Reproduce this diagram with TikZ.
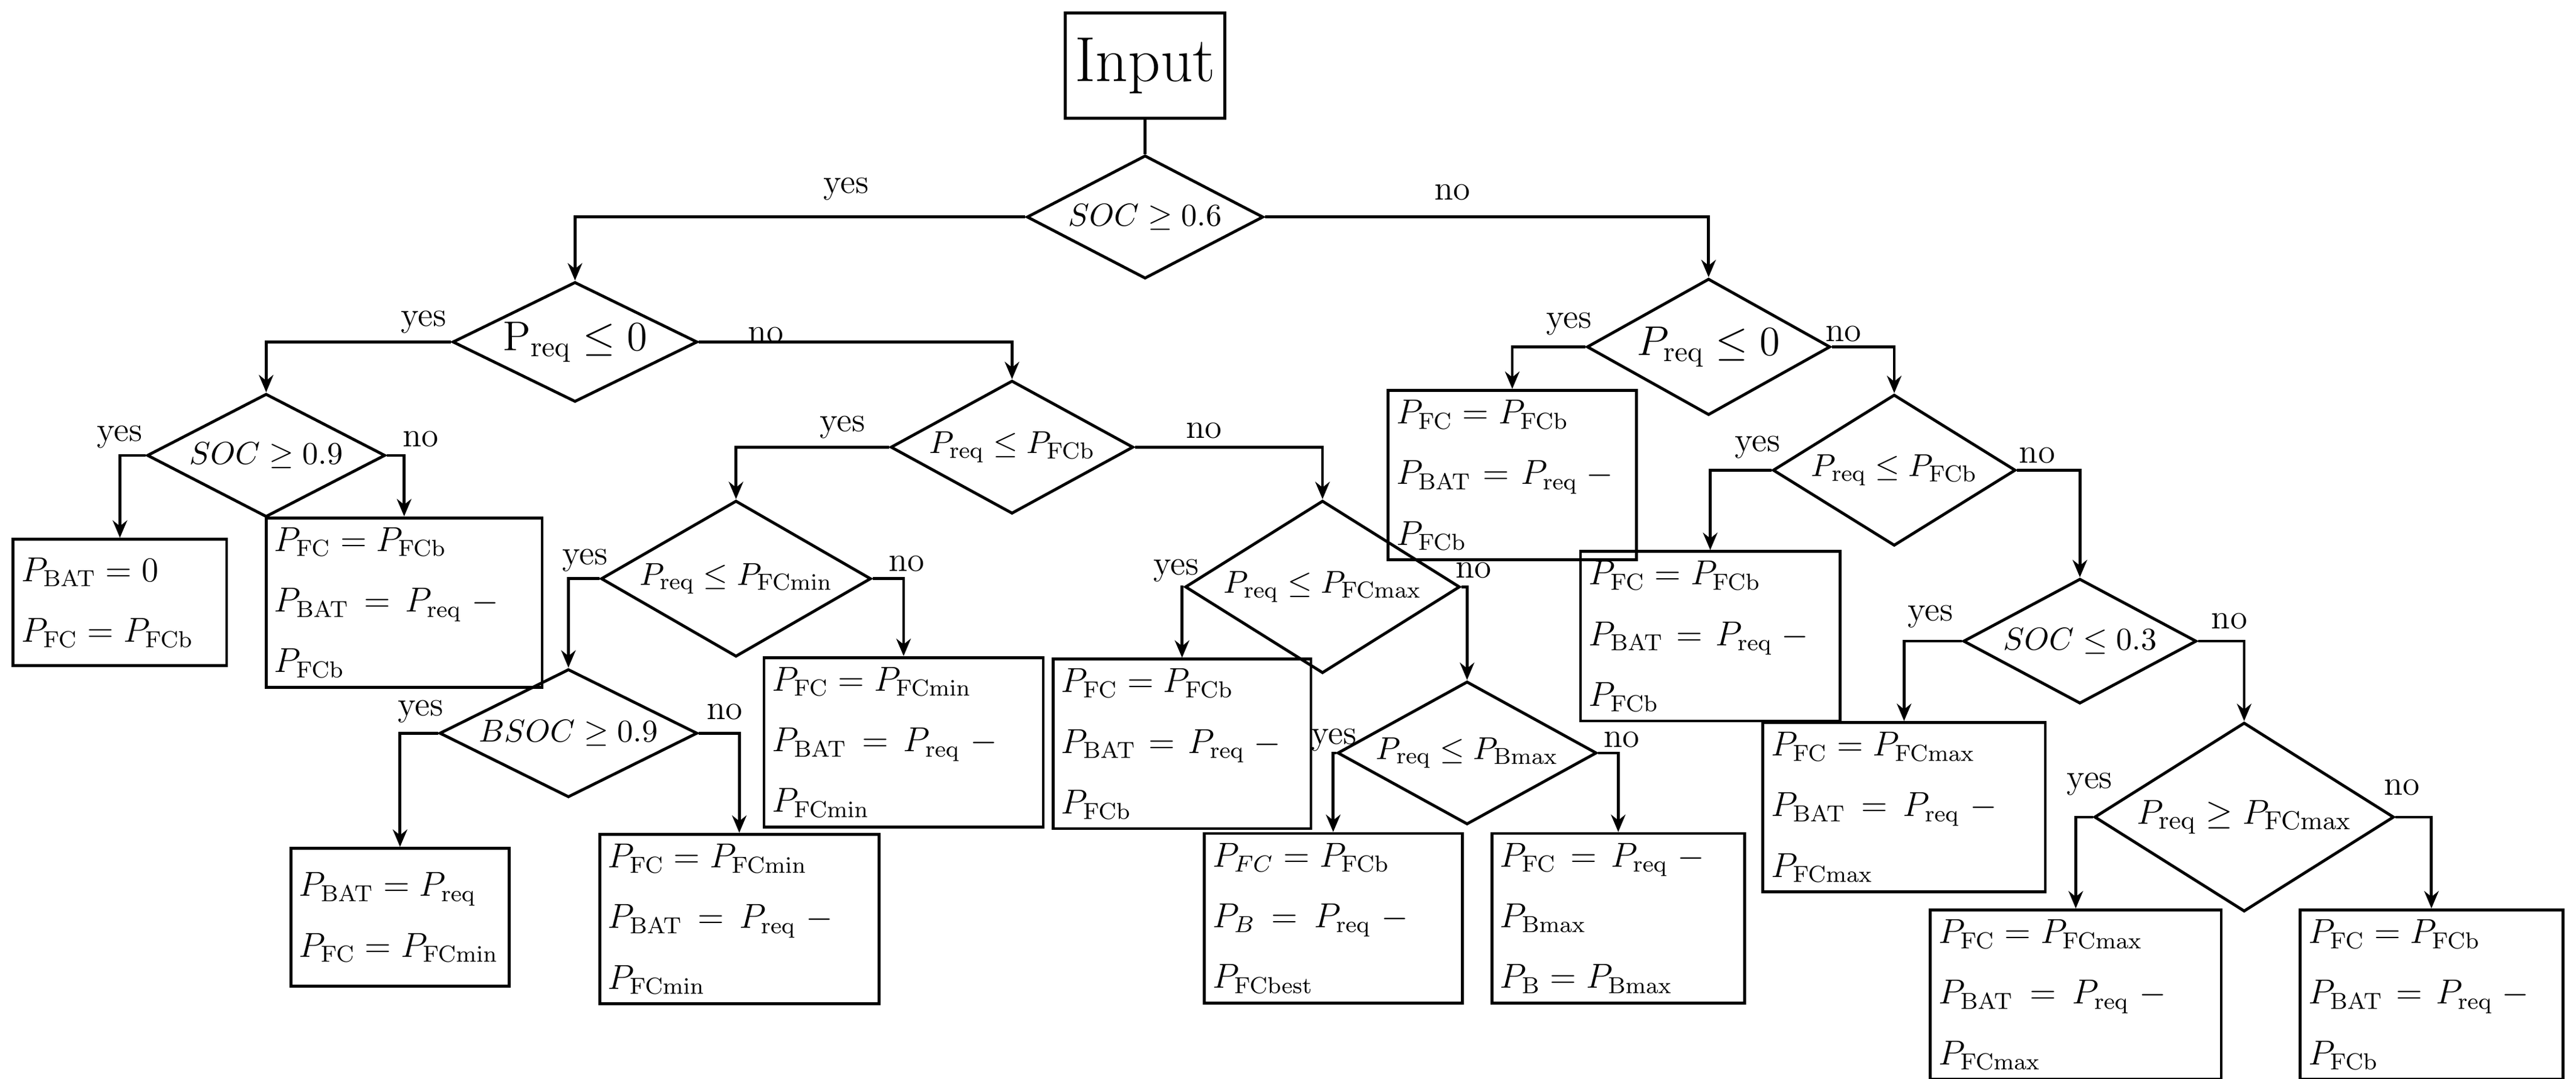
\documentclass[tikz,border=0pt]{standalone}
\usetikzlibrary{shapes.geometric,arrows.meta}
\begin{document}
\begin{tikzpicture}[x=0.02cm,y=-0.02cm,
 dia/.style={diamond,draw,line width=1pt,inner sep=0pt,aspect=2.5,font=\fontsize{11}{13}\selectfont},
 bx/.style={draw,line width=1pt,inner xsep=0.1cm,align=left,font=\fontsize{11.5}{21}\selectfont},
 arr/.style={line width=1pt,-{Stealth[length=6pt,width=5pt]}},
 lb/.style={font=\fontsize{12}{14}\selectfont}]
\useasboundingbox (0,0) rectangle (1568,656);
\node[draw,line width=1pt,minimum width=1.94cm,minimum height=1.28cm,font=\fontsize{22}{24}\selectfont] (in) at (697,40) {Input};
\node[dia,minimum width=2.88cm,minimum height=1.5cm] (d1) at (697,132) {$SOC\geq 0.6$};
\node[dia,minimum width=2.8cm,minimum height=1.46cm,font=\fontsize{14}{16}\selectfont] (d2) at (350,208) {$\mathrm{P}_{\mathrm{req}}\leq 0$};
\node[dia,minimum width=2.56cm,minimum height=1.66cm,font=\fontsize{14}{16}\selectfont] (d3) at (1040,211) {$P_{\mathrm{req}}\leq 0$};
\node[dia,minimum width=2.9cm,minimum height=1.5cm] (d4) at (162,277) {$SOC\geq 0.9$};
\node[dia,minimum width=2.56cm,minimum height=1.62cm] (d5) at (616,272) {$P_{\mathrm{req}}\leq P_{\mathrm{FCb}}$};
\node[dia,minimum width=3.0cm,minimum height=1.9cm] (d6) at (448,352) {$P_{\mathrm{req}}\leq P_{\mathrm{FCmin}}$};
\node[dia,minimum width=3.08cm,minimum height=2.1cm] (d7) at (805,357) {$P_{\mathrm{req}}\leq P_{\mathrm{FCmax}}$};
\node[dia,minimum width=3.14cm,minimum height=1.56cm] (d8) at (346,446) {$BSOC\geq 0.9$};
\node[dia,minimum width=3.0cm,minimum height=1.74cm] (d9) at (893,458) {$P_{\mathrm{req}}\leq P_{\mathrm{Bmax}}$};
\node[dia,minimum width=2.54cm,minimum height=1.84cm] (d10) at (1153,286) {$P_{\mathrm{req}}\leq P_{\mathrm{FCb}}$};
\node[dia,minimum width=2.84cm,minimum height=1.52cm] (d11) at (1266,390) {$SOC\leq 0.3$};
\node[dia,minimum width=3.46cm,minimum height=2.3cm,font=\fontsize{13}{15}\selectfont] (d12) at (1366,497) {$P_{\mathrm{req}}\geq P_{\mathrm{FCmax}}$};
\node[bx,minimum width=2.6cm,minimum height=1.54cm,text width=2.4cm] (b1) at (73,366.5) {$P_{\mathrm{BAT}}=0$\\$P_{\mathrm{FC}}=P_{\mathrm{FCb}}$};
\node[bx,minimum width=3.36cm,minimum height=1.54cm,text width=3.16cm] (b2) at (246,366.5) {$P_{\mathrm{FC}}=P_{\mathrm{FCb}}$\\$P_{\mathrm{BAT}}=P_{\mathrm{req}}-P_{\mathrm{FCb}}$};
\node[bx,minimum width=3.4cm,minimum height=1.66cm,text width=3.2cm] (b3) at (550,451.5) {$P_{\mathrm{FC}}=P_{\mathrm{FCmin}}$\\$P_{\mathrm{BAT}}=P_{\mathrm{req}}-P_{\mathrm{FCmin}}$};
\node[bx,minimum width=2.66cm,minimum height=1.68cm,text width=2.46cm] (b4) at (243.5,558) {$P_{\mathrm{BAT}}=P_{\mathrm{req}}$\\$P_{\mathrm{FC}}=P_{\mathrm{FCmin}}$};
\node[bx,minimum width=3.4cm,minimum height=1.64cm,text width=3.2cm] (b5) at (450,559) {$P_{\mathrm{FC}}=P_{\mathrm{FCmin}}$\\$P_{\mathrm{BAT}}=P_{\mathrm{req}}-P_{\mathrm{FCmin}}$};
\node[bx,minimum width=3.14cm,minimum height=1.7cm,text width=2.94cm] (b6) at (719.5,452.5) {$P_{\mathrm{FC}}=P_{\mathrm{FCb}}$\\$P_{\mathrm{BAT}}=P_{\mathrm{req}}-P_{\mathrm{FCb}}$};
\node[bx,minimum width=3.14cm,minimum height=1.66cm,text width=2.94cm] (b7) at (811.5,558.5) {$P_{FC}=P_{\mathrm{FCb}}$\\$P_{B}=P_{\mathrm{req}}-P_{\mathrm{FCbest}}$};
\node[bx,minimum width=3.08cm,minimum height=1.66cm,text width=2.88cm] (b8) at (985,558.5) {$P_{\mathrm{FC}}=P_{\mathrm{req}}-P_{\mathrm{Bmax}}$\\$P_{\mathrm{B}}=P_{\mathrm{Bmax}}$};
\node[bx,minimum width=3.02cm,minimum height=1.64cm,text width=2.82cm] (b9) at (920.5,289) {$P_{\mathrm{FC}}=P_{\mathrm{FCb}}$\\$P_{\mathrm{BAT}}=P_{\mathrm{req}}-P_{\mathrm{FCb}}$};
\node[bx,minimum width=3.16cm,minimum height=1.64cm,text width=2.96cm] (b10) at (1041,387) {$P_{\mathrm{FC}}=P_{\mathrm{FCb}}$\\$P_{\mathrm{BAT}}=P_{\mathrm{req}}-P_{\mathrm{FCb}}$};
\node[bx,minimum width=3.44cm,minimum height=1.64cm,text width=3.24cm] (b11) at (1159,491) {$P_{\mathrm{FC}}=P_{\mathrm{FCmax}}$\\$P_{\mathrm{BAT}}=P_{\mathrm{req}}-P_{\mathrm{FCmax}}$};
\node[bx,minimum width=3.54cm,minimum height=1.6cm,text width=3.34cm] (b12) at (1263.5,605) {$P_{\mathrm{FC}}=P_{\mathrm{FCmax}}$\\$P_{\mathrm{BAT}}=P_{\mathrm{req}}-P_{\mathrm{FCmax}}$};
\node[bx,minimum width=3.2cm,minimum height=1.6cm,text width=3.0cm] (b13) at (1480,605) {$P_{\mathrm{FC}}=P_{\mathrm{FCb}}$\\$P_{\mathrm{BAT}}=P_{\mathrm{req}}-P_{\mathrm{FCb}}$};
\draw[line width=1pt] (in) -- (d1);
\draw[arr] (d1.west) -| (d2.north);
\draw[arr] (d1.east) -| (d3.north);
\draw[arr] (d2.west) -| (d4.north);
\draw[arr] (d2.east) -| (d5.north);
\draw[arr] (d4.west) -| (b1.north);
\draw[arr] (d4.east) -| (b2.north);
\draw[arr] (d5.west) -| (d6.north);
\draw[arr] (d5.east) -| (d7.north);
\draw[arr] (d6.west) -| (d8.north);
\draw[arr] (d6.east) -| (b3.north);
\draw[arr] (d8.west) -| (b4.north);
\draw[arr] (d8.east) -| (b5.north);
\draw[arr] (d7.west) -| (b6.north);
\draw[arr] (d7.east) -| (d9.north);
\draw[arr] (d9.west) -| (b7.north);
\draw[arr] (d9.east) -| (b8.north);
\draw[arr] (d3.west) -| (b9.north);
\draw[arr] (d3.east) -| (d10.north);
\draw[arr] (d10.west) -| (b10.north);
\draw[arr] (d10.east) -| (d11.north);
\draw[arr] (d11.west) -| (b11.north);
\draw[arr] (d11.east) -| (d12.north);
\draw[arr] (d12.west) -| (b12.north);
\draw[arr] (d12.east) -| (b13.north);
\node[lb] at (515,115) {yes}; \node[lb] at (884,117) {no};
\node[lb] at (258,196) {yes}; \node[lb] at (466,204) {no};
\node[lb] at (73,266) {yes}; \node[lb] at (256,267) {no};
\node[lb] at (513,260) {yes}; \node[lb] at (733,262) {no};
\node[lb] at (356,341) {yes}; \node[lb] at (552,343) {no};
\node[lb] at (256,433) {yes}; \node[lb] at (441,433) {no};
\node[lb] at (716,347) {yes}; \node[lb] at (897,347) {no};
\node[lb] at (812,450) {yes}; \node[lb] at (987,450) {no};
\node[lb] at (955,197) {yes}; \node[lb] at (1122,203) {no};
\node[lb] at (1070,272) {yes}; \node[lb] at (1240,277) {no};
\node[lb] at (1175,375) {yes}; \node[lb] at (1357,378) {no};
\node[lb] at (1272,477) {yes}; \node[lb] at (1462,479) {no};
\end{tikzpicture}
\end{document}
